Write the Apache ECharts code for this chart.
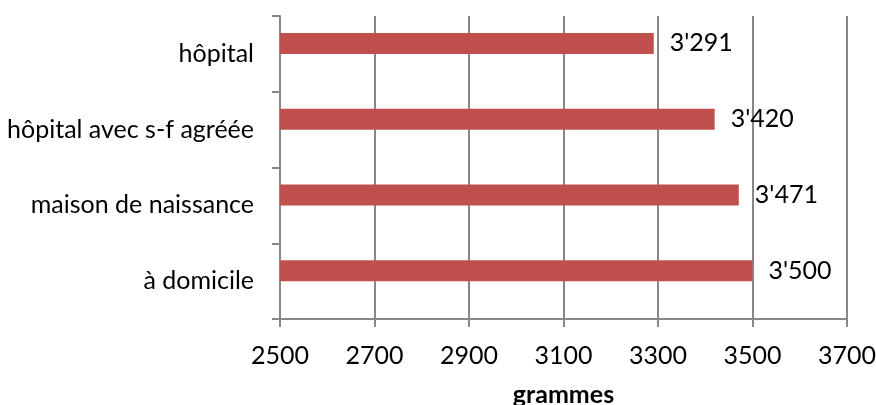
<!DOCTYPE html>
<html>
<head>
<meta charset="utf-8">
<script src="https://cdn.jsdelivr.net/npm/echarts@6/dist/echarts.min.js"></script>
<style>
  html, body { margin: 0; padding: 0; background: #fff; }
  #chart { width: 876px; height: 405px; }
</style>
</head>
<body>
<div id="chart"></div>
<script>
// Mean birth weight by place of birth
const categories = ['hôpital', 'hôpital avec s-f agréée', 'maison de naissance', 'à domicile'];
const weights = [3291, 3420, 3471, 3500];
const xTicks = { min: 2500, max: 3700, interval: 200 };

const FONT = 'Lato, "Open Sans", sans-serif';
const FONT_SIZE = 25;
const AXIS_GREY = '#878787';

function swissThousands(v) {
  const s = String(Math.round(v));
  return s.replace(/\B(?=(\d{3})+(?!\d))/g, "'");
}

const chart = echarts.init(document.getElementById('chart'), null, { renderer: 'canvas' });
chart.setOption({
  animation: false,
  backgroundColor: '#ffffff',
  grid: { left: 280, right: 29, top: 16, bottom: 86, containLabel: false, outerBoundsMode: 'none' },
  xAxis: {
    type: 'value',
    min: xTicks.min,
    max: xTicks.max,
    interval: xTicks.interval,
    name: 'grammes',
    nameLocation: 'middle',
    nameGap: 63,
    nameTextStyle: { fontFamily: FONT, fontSize: FONT_SIZE, fontWeight: 'bold', color: '#000' },
    axisLine: { show: true, lineStyle: { color: AXIS_GREY, width: 2 } },
    axisTick: { show: true, length: 8, lineStyle: { color: AXIS_GREY, width: 2 } },
    axisLabel: { fontFamily: FONT, fontSize: FONT_SIZE, color: '#000', margin: 24, formatter: v => String(v) },
    splitLine: { show: true, lineStyle: { color: AXIS_GREY, width: 2 } }
  },
  yAxis: {
    type: 'category',
    inverse: true,
    data: categories,
    axisLine: { show: true, lineStyle: { color: AXIS_GREY, width: 2 } },
    axisTick: { show: true, length: 8, lineStyle: { color: AXIS_GREY, width: 2 } },
    axisLabel: { fontFamily: FONT, fontSize: FONT_SIZE, color: '#000', margin: 26 },
    splitLine: { show: false }
  },
  series: [
    {
      type: 'bar',
      data: weights,
      barWidth: 21,
      barGap: '0%',
      itemStyle: { color: '#C0504D' },
      label: {
        show: true,
        position: 'right',
        distance: 16,
        fontFamily: FONT,
        fontSize: FONT_SIZE,
        color: '#000',
        formatter: p => swissThousands(p.value)
      }
    },
    {
      type: 'bar',
      data: categories.map(() => null),
      barWidth: 21,
      barGap: '0%',
      itemStyle: { color: 'transparent' }
    }
  ]
});
</script>
</body>
</html>
